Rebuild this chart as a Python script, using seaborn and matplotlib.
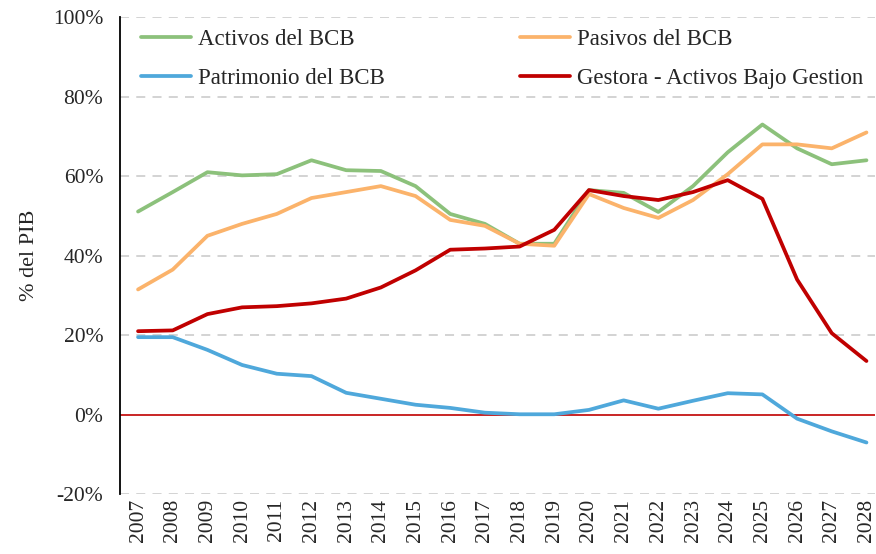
import pandas as pd
import numpy as np
import matplotlib.pyplot as plt
import seaborn as sns
from matplotlib.ticker import FuncFormatter

# data (% of GDP)
years = list(range(2007, 2029))
activos = [51.1, 56.0, 61.0, 60.2, 60.5, 64.0, 61.5, 61.3, 57.5, 50.5, 48.0,
           43.0, 43.0, 56.5, 55.8, 51.0, 57.5, 66.0, 73.0, 67.0, 63.0, 64.0]
pasivos = [31.5, 36.5, 45.0, 48.0, 50.5, 54.5, 56.0, 57.5, 55.0, 49.0, 47.5,
           43.0, 42.5, 55.5, 52.0, 49.5, 54.0, 60.5, 68.0, 68.0, 67.0, 71.0]
patrimonio = [19.5, 19.5, 16.3, 12.5, 10.3, 9.7, 5.5, 4.0, 2.5, 1.7, 0.5,
              0.1, 0.1, 1.2, 3.6, 1.5, 3.5, 5.4, 5.1, -1.0, -4.2, -7.0]
gestora = [21.0, 21.2, 25.3, 27.0, 27.3, 28.0, 29.2, 32.0, 36.3, 41.5, 41.8,
           42.3, 46.5, 56.5, 55.0, 54.0, 56.0, 59.0, 54.3, 34.0, 20.5, 13.5]

series_names = ['Activos del BCB', 'Patrimonio del BCB',
                'Pasivos del BCB', 'Gestora - Activos Bajo Gestion']
colors = ['#8cc17b', '#4fa8db', '#fbb36b', '#c00000']

df = pd.DataFrame({
    'year': years * 4,
    'value': activos + patrimonio + pasivos + gestora,
    'serie': [n for n in series_names for _ in years],
})

sns.set_style('white')
plt.rcParams['font.family'] = ['Liberation Serif', 'DejaVu Serif']

fig = plt.figure(figsize=(8.76, 5.54), dpi=100)
ax = fig.add_axes([0.137, 0.108, 0.862, 0.861])

# grid lines (dashed) and red zero line
for yv in [-20, 20, 40, 60, 80, 100]:
    ax.axhline(yv, color='#d0d0d0', lw=1.3, ls=(0, (5, 4)), zorder=0)
ax.axhline(0, color='#c00000', lw=1.2, zorder=1)

sns.lineplot(data=df, x='year', y='value', hue='serie', hue_order=series_names,
             palette=colors, lw=2.7, ax=ax, legend=True)

ax.set_xlim(2006.48, 2028.25)
ax.set_ylim(-20, 100)
ax.set_yticks(np.arange(-20, 101, 20))
ax.yaxis.set_major_formatter(FuncFormatter(lambda v, p: f'{v:.0f}%'))
ax.set_xticks(years)
ax.set_xticklabels([str(y) for y in years], rotation=90)
ax.tick_params(axis='both', labelsize=15.5, length=0)
ax.tick_params(axis='y', pad=12)
ax.set_xlabel('')
ax.set_ylabel('% del PIB', fontsize=16, labelpad=10)

for s in ['top', 'right', 'bottom']:
    ax.spines[s].set_visible(False)
ax.spines['left'].set_color('black')
ax.spines['left'].set_linewidth(1.3)

leg = ax.legend(ncol=2, loc='upper left', bbox_to_anchor=(0.0, 1.018),
                frameon=False, fontsize=16.5, handlelength=2.2,
                handletextpad=0.3, columnspacing=5.9, labelspacing=0.78)
for h in leg.get_lines():
    h.set_linewidth(2.7)

fig.savefig('out.png', dpi=100)
